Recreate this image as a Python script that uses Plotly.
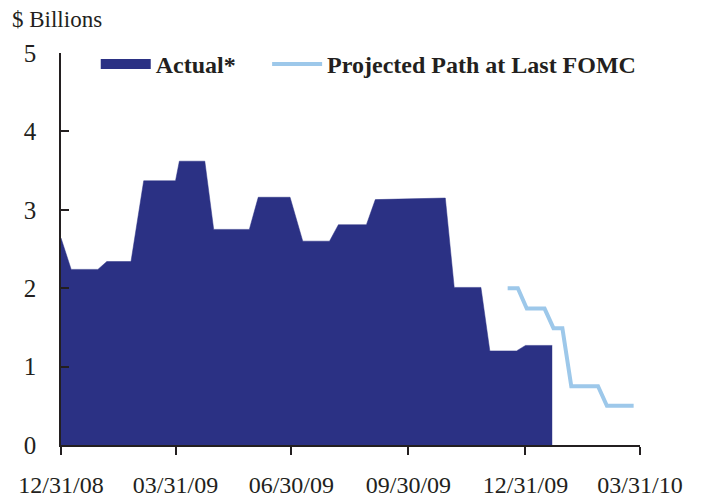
import plotly.graph_objects as go

actual_dates = ["2008-12-31", "2009-01-08", "2009-01-29", "2009-02-05", "2009-02-24",
                "2009-03-06", "2009-03-31", "2009-04-03", "2009-04-23", "2009-04-30",
                "2009-05-28", "2009-06-04", "2009-06-29", "2009-07-09", "2009-07-30",
                "2009-08-06", "2009-08-28", "2009-09-04", "2009-10-29", "2009-11-05",
                "2009-11-26", "2009-12-03", "2009-12-24", "2009-12-31", "2010-01-21"]
actual_values = [2.64, 2.24, 2.24, 2.34, 2.34,
                 3.37, 3.37, 3.62, 3.62, 2.75,
                 2.75, 3.16, 3.16, 2.60, 2.60,
                 2.81, 2.81, 3.13, 3.15, 2.01,
                 2.01, 1.20, 1.20, 1.27, 1.27]

proj_dates = ["2009-12-17", "2009-12-25", "2010-01-01", "2010-01-15", "2010-01-22",
              "2010-01-29", "2010-02-05", "2010-02-26", "2010-03-05", "2010-03-26"]
proj_values = [2.00, 2.00, 1.74, 1.74, 1.49, 1.49, 0.75, 0.75, 0.50, 0.50]

tick_dates = ["2008-12-31", "2009-03-31", "2009-06-30", "2009-09-30", "2009-12-31", "2010-03-31"]
tick_labels = ["12/31/08", "03/31/09", "06/30/09", "09/30/09", "12/31/09", "03/31/10"]

NAVY = "#2B3184"
LIGHT = "#9DC8EA"
FONT = "Liberation Serif"
INK = "#231F20"

fig = go.Figure()
fig.add_trace(go.Scatter(
    x=actual_dates, y=actual_values, name="Actual*", mode="lines",
    fill="tozeroy", fillcolor=NAVY, line=dict(color=NAVY, width=0.5),
    showlegend=False,
))
# legend entry for the area (thick swatch)
fig.add_trace(go.Scatter(
    x=[None], y=[None], name="Actual*", mode="lines",
    line=dict(color=NAVY, width=16), showlegend=True, legend="legend",
))
fig.add_trace(go.Scatter(
    x=proj_dates, y=proj_values, name="Projected Path at Last FOMC", mode="lines",
    line=dict(color=LIGHT, width=4), legend="legend2",
))

legend_common = dict(orientation="h", y=1.028, xanchor="left", yanchor="top",
                     font=dict(family=FONT, size=24, color=INK, weight="bold"),
                     bgcolor="rgba(0,0,0,0)", itemwidth=50)

fig.update_layout(
    width=695, height=491,
    margin=dict(l=53, r=63, t=45, b=54),
    paper_bgcolor="white", plot_bgcolor="white",
    font=dict(family=FONT, color=INK),
    showlegend=True,
    legend=dict(x=0.06, **legend_common),
    legend2=dict(x=0.356, **legend_common),
    xaxis=dict(
        type="date", range=["2008-12-31", "2010-03-31"], automargin=False,
        tickvals=tick_dates, ticktext=tick_labels,
        showgrid=False, zeroline=False, showline=True, linecolor=INK, linewidth=1.5,
        ticks="outside", ticklen=8, tickwidth=1.5, tickcolor=INK,
        tickfont=dict(family=FONT, size=24, color=INK),
        ticklabelstandoff=9,
    ),
    yaxis=dict(
        range=[0, 5], tickvals=[0, 1, 2, 3, 4, 5], automargin=False,
        showgrid=False, zeroline=False, showline=True, linecolor=INK, linewidth=1.5,
        ticks="inside", ticklen=8, tickwidth=1.5, tickcolor=INK,
        tickfont=dict(family=FONT, size=25, color=INK),
        ticklabelstandoff=18,
    ),
    annotations=[dict(text="$ Billions", xref="paper", yref="paper", x=-0.088, y=1.0,
                      xanchor="left", yanchor="bottom", yshift=19, showarrow=False,
                      font=dict(family=FONT, size=23, color=INK))],
)

fig.write_html("out.html")
